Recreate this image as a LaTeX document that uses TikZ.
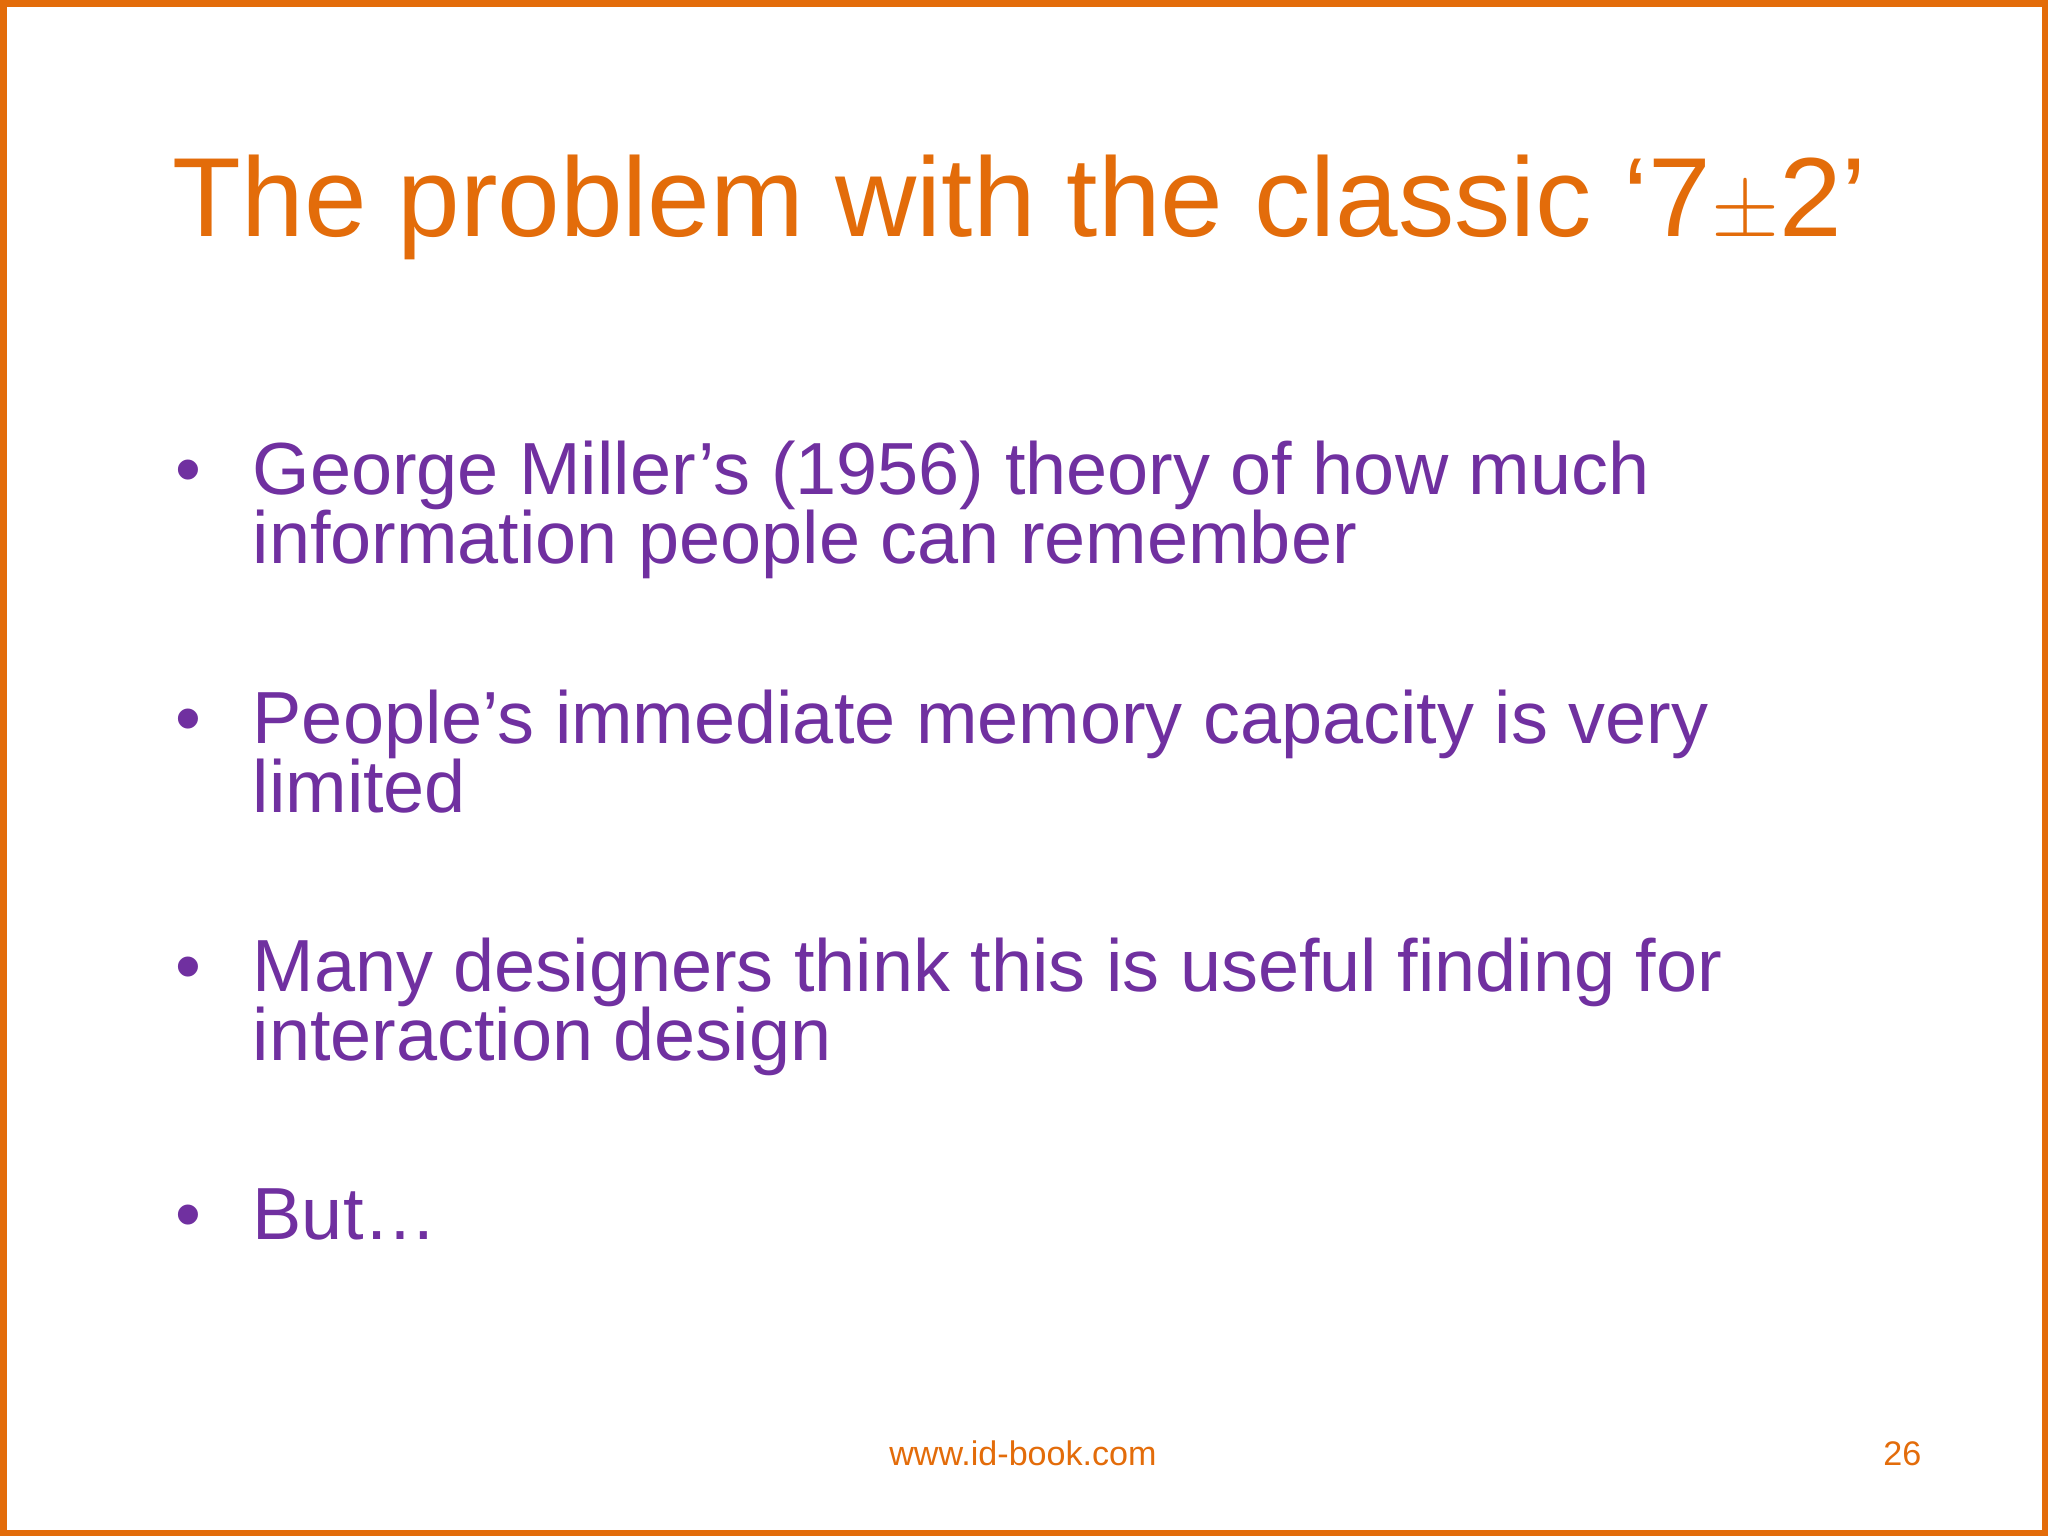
\documentclass[tikz,border=0pt]{standalone}
\usepackage{fontspec}
\setmainfont{Liberation Sans}
\definecolor{org}{HTML}{E36C0A}
\definecolor{pur}{HTML}{7030A0}
\begin{document}
\begin{tikzpicture}[x=0.01cm,y=-0.01cm,
  bl/.style={anchor=base west,inner sep=0,text=pur,font=\fontsize{21}{24}\selectfont},
  dot/.style={anchor=base west,inner sep=0,text=pur,font=\fontsize{21}{24}\selectfont}]
\useasboundingbox (0,0) rectangle (2048,1536);
\fill[white] (0,0) rectangle (2048,1536);
\draw[org,line width=0.07cm] (3,3) rectangle (2045,1533);
\node[anchor=base west,inner sep=0,text=org,font=\fontsize{32}{36}\selectfont] (t) at (172,236) {The problem with the classic `7$\pm$2'};
\node[dot] (d1) at (175,494) {•};
\node[bl] (b1a) at (252,494) {George Miller’s (1956) theory of how much};
\node[bl] (b1b) at (252,563) {information people can remember};
\node[dot] (d2) at (175,743) {•};
\node[bl] (b2a) at (252,743) {People’s immediate memory capacity is very};
\node[bl] (b2b) at (252,812) {limited};
\node[dot] (d3) at (175,991) {•};
\node[bl] (b3a) at (252,991) {Many designers think this is useful finding for};
\node[bl] (b3b) at (252,1060) {interaction design};
\node[dot] (d4) at (175,1239) {•};
\node[bl] (b4) at (252,1239) {But…};
\node[anchor=base,inner sep=0,text=org,font=\fontsize{9.7}{11}\selectfont] (f) at (1023,1465) {www.id-book.com};
\node[anchor=base east,inner sep=0,text=org,font=\fontsize{9.7}{11}\selectfont] (p) at (1922,1465) {26};
\end{tikzpicture}
\end{document}
